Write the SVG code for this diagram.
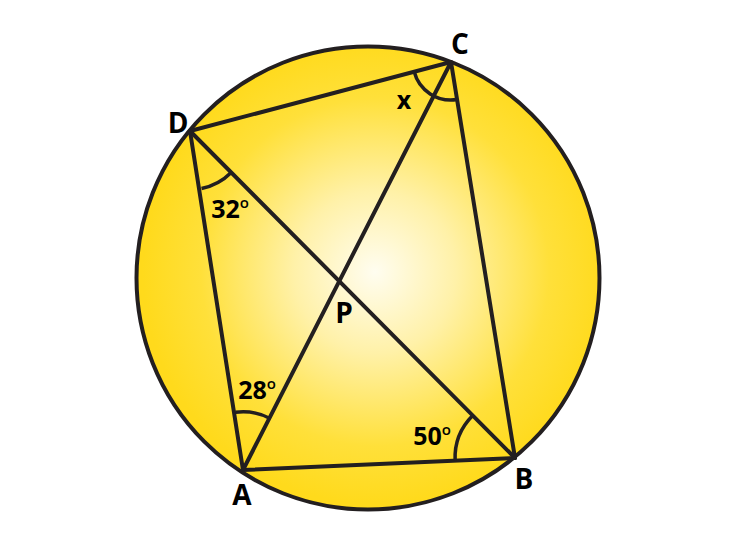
<svg xmlns="http://www.w3.org/2000/svg" width="750" height="552" viewBox="0 0 750 552">
<defs>
<radialGradient id="g" cx="375" cy="272" r="232" gradientUnits="userSpaceOnUse">
<stop offset="0" stop-color="#FFFDF0"/>
<stop offset="0.35" stop-color="#FFF1A8"/>
<stop offset="0.75" stop-color="#FFE03A"/>
<stop offset="1" stop-color="#FFDA1C"/>
</radialGradient>
<style>
.ln{stroke:#231F20;stroke-width:4;fill:none;stroke-linecap:round;stroke-linejoin:round}
.arc{stroke:#231F20;stroke-width:3.5;fill:none}
.lbl{font-family:"Open Sans","Liberation Sans",sans-serif;font-weight:700;fill:#000;text-anchor:middle}
.big{font-size:28px}
.num{font-size:25px}
</style>
</defs>
<g id="circle">
<circle cx="368" cy="278" r="231.5" fill="url(#g)" stroke="#231F20" stroke-width="4"/>
</g>
<g id="connectors">
<path class="ln" d="M190,131 L451,62 L515,458 L243,470 Z"/>
<path class="ln" d="M243,470 L451,62"/>
<path class="ln" d="M190,131 L515,458"/>
</g>
<g id="angles">
<path class="arc" d="M201.5,188.5 A58.5,58.5 0 0 0 231.2,172.5"/>
<path class="arc" d="M414.2,71.8 A38,38 0 0 0 456.9,99.6"/>
<path class="arc" d="M235.4,412.3 A58.2,58.2 0 0 1 269.5,418.2"/>
<path class="arc" d="M455.1,460.6 A60,60 0 0 1 472.7,415.4"/>
</g>
<g id="node-D"><text class="lbl big" x="178" y="133">D</text></g>
<g id="node-C"><text class="lbl big" x="460" y="54">C</text></g>
<g id="node-A"><text class="lbl big" x="242" y="505">A</text></g>
<g id="node-B"><text class="lbl big" x="524" y="489">B</text></g>
<g id="node-P"><text class="lbl big" x="344" y="323">P</text></g>
<g id="label-32"><text class="lbl num" x="230" y="218">32<tspan font-size="15" font-weight="600" dy="-10">o</tspan></text></g>
<g id="label-28"><text class="lbl num" x="257" y="399">28<tspan font-size="15" font-weight="600" dy="-10">o</tspan></text></g>
<g id="label-50"><text class="lbl num" x="432" y="445">50<tspan font-size="15" font-weight="600" dy="-10">o</tspan></text></g>
<g id="label-x"><text class="lbl num" x="404" y="109">x</text></g>
</svg>
